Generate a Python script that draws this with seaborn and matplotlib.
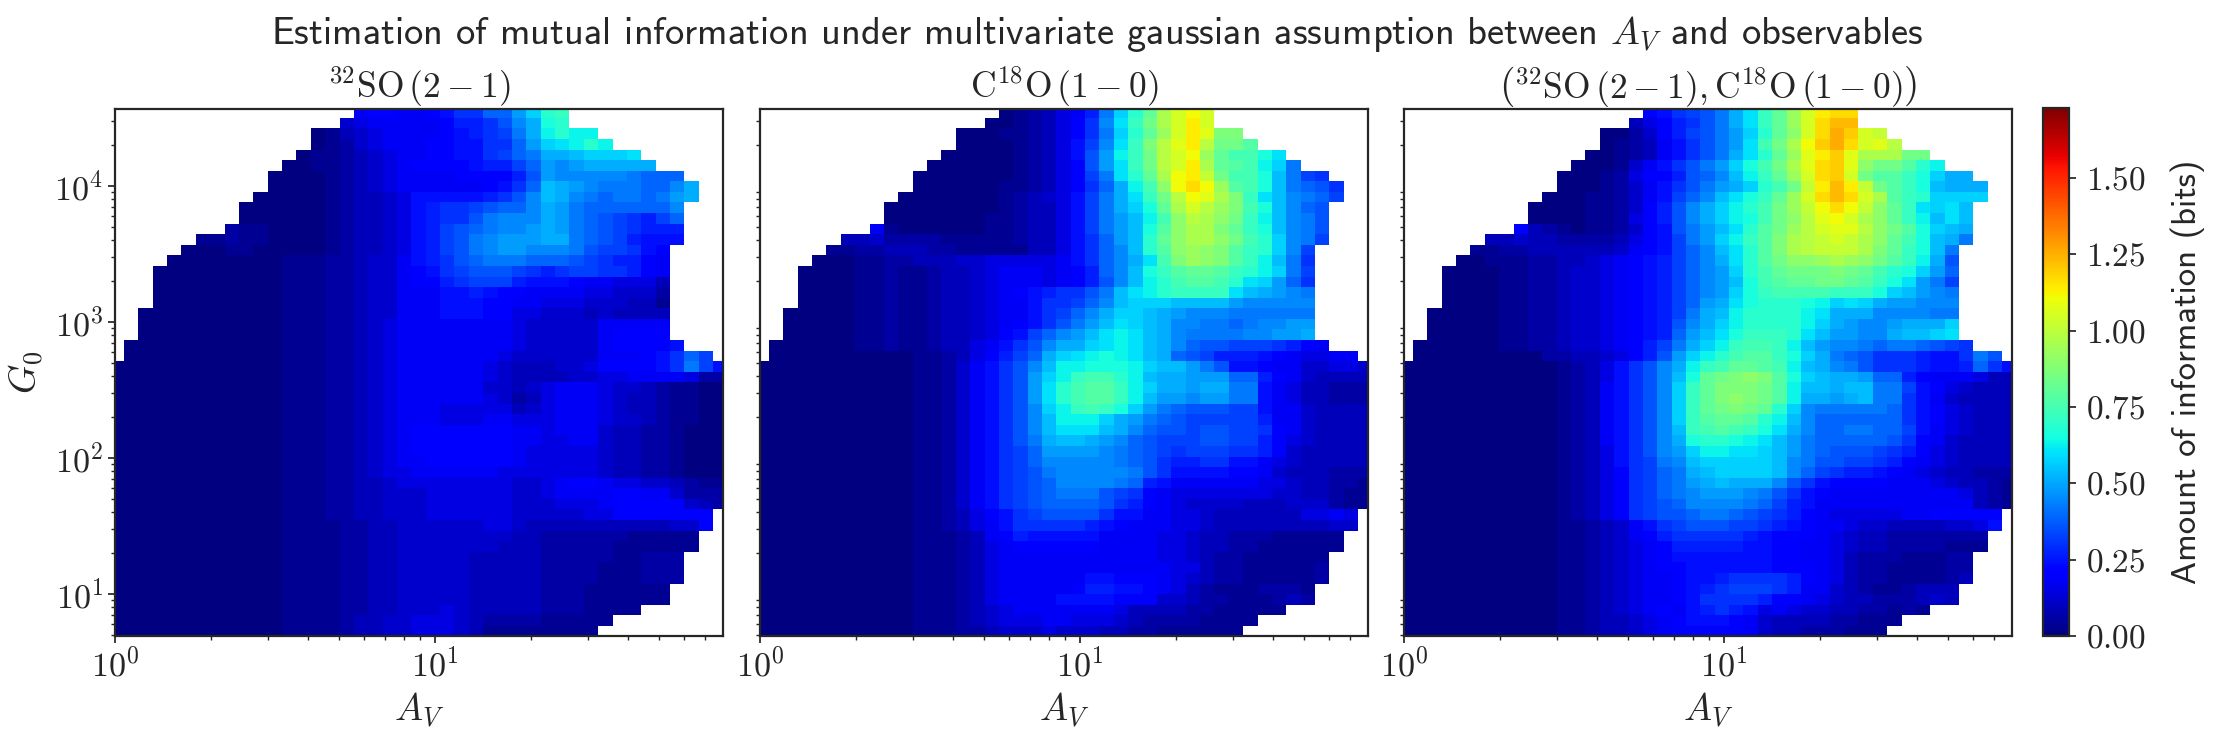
import numpy as np
import matplotlib
matplotlib.use('Agg')
import matplotlib.pyplot as plt
import seaborn as sns

# cell values, one letter per cell, top row first
# letter index * 0.03 = bits, '.' = no data
LEVELS = '0123456789abcdefghijklmnopqrstuvwxyzABCDEFGHIJ'
BITS_PER_LEVEL = 0.03

so32_rows = [
    ".......... .......677 6678aaddgj no........ ...",
    ".......... ......4566 666799acfh mn........ ...",
    ".......... ....013456 666789abeh lnll...... ...",
    ".......... ....012456 667788aadg jklnl..... ...",
    ".......... ...0112345 667788abde hhijjjk... ...",
    ".......... ..00112345 67777899bd gfghhhhh.. ...",
    ".......... .000012345 666677779c gfffffeddd ...",
    ".......... .000012345 66666678ad ihgfeeeddf h..",
    ".......... 0000012334 5888889acf ihfedeedeg h..",
    ".........0 0000012334 589aabcddf hgeddddddf ...",
    ".........0 0000012334 589aacefff hgedcba9bd ...",
    "........21 1000012334 589bcdeffg hgedcba999 ...",
    "......1121 1000012334 589bcefggg hhedcb9888 ...",
    ".....00011 0000012334 589bcefggf ffecbba87. ...",
    "....000000 0011122344 689acdeeed ddcba9976. ...",
    "...0000000 0011122344 678abcccba 9abbaa976. ...",
    "...0000000 0011122344 6779abbb98 887665553. ...",
    "...0000000 0011122344 6668898776 666554442. ...",
    "...0000000 0011122344 6668887766 555444331. ...",
    "..00000000 0011122344 6668887755 444343333. ...",
    "..00000000 0011122345 6666666654 444466666. ...",
    "..00000000 0011122345 6666666654 444467777. ...",
    ".000000000 0011122345 6666666654 4444677778 ...",
    ".000000000 0011122345 6666666544 444466678a db.",
    "0000000000 0011122345 6666665433 344577778a eb8",
    "0000000000 0011122345 6666665433 3344556666 522",
    "0000000000 0011122345 6666664434 5666544321 100",
    "0000000000 0011122345 6666665423 5666543321 100",
    "0000000000 0011122345 6665555534 5666543321 100",
    "0000000000 0011122345 6665556655 5666544321 100",
    "0000000000 0011122345 6777777766 5666433221 000",
    "0000000000 0011122345 6777777766 5566433221 000",
    "0000000000 0011122345 6777777765 5555433221 000",
    "0000000000 0011122345 6677777765 5555433221 000",
    "0000000000 0011122345 5666666555 5555433221 000",
    "0000000000 0011122334 5555555544 5677655443 211",
    "0000000000 0011122334 4455555544 5666677664 222",
    "0000000000 0011122334 4455555544 4555677777 432",
    "0000000000 0011122334 4455555544 4445577777 77.",
    "0000000000 0011112233 4444445543 3333333334 47.",
    "0000000000 0011112233 4444444433 2222221111 1..",
    "0000000000 0011112233 4444444333 2222211111 1..",
    "0000000000 0011112233 4444433333 2222211222 ...",
    "0000000000 0011112233 4444433333 2222111222 ...",
    "0000000000 0011112233 4444433333 2222111222 ...",
    "0000000000 0011112233 4444433333 222111111. ...",
    "0000000000 0011112233 4444433333 222111111. ...",
    "0000000000 0011112233 4445433333 2221111... ...",
    "0000000000 0011112334 4555432222 11111..... ...",
    "0000000000 0011112334 4555431111 1111...... ...",
]

c18o_rows = [
    ".......... .......012 3569ejnrwz Bz........ ...",
    ".......... ......0012 357afkoswz Cz........ ...",
    ".......... ....000112 357aejnrvz CAtt...... ...",
    ".......... ....000012 358bfkotxA Cxssq..... ...",
    ".......... ...0000012 358cglosxz Bvrppmk... ...",
    ".......... ..00000012 357cgkosxz Cwrqplje.. ...",
    ".......... .000000012 357beknrwB Cysppmieba ...",
    ".......... .000000112 357adhlpuB DBvqpmiedc a..",
    ".......... 0000000123 458behkosx BAwtokifed b..",
    ".........0 0000000123 358behjmrw zxvtpmifdc ...",
    ".........0 0000001123 358begilpu xwusolifec ...",
    "........61 0000001123 358begimqu wwtromifec ...",
    "......3342 2221111123 358adginru wwuspnjfeb ...",
    ".....11223 3322111113 358adfinqu vutqonjfb. ...",
    "....000112 2333445555 568adfhkpt vutqoliea. ...",
    "...0000112 1123345666 5679dfimoq rrqonljeb. ...",
    "...0000112 1123345666 5679cfilnp qqpnkjgda. ...",
    "...0000112 1123345678 9aaceiklno oookihgfe. ...",
    "...0000112 1123345668 aabdfijjji iiigfffff. ...",
    "..00000112 1123345668 abdfhjjihg fffeeeeee. ...",
    "..00000112 1123345678 acegikjihf feedeffgg. ...",
    "..00000112 112334578b dfgiklkihf eeeeffggh. ...",
    ".000000112 11233568ac fhhjklkihf dccbbba976 ...",
    ".000000000 01123579bd hjklmlkihd cb99987655 66.",
    "0000000000 0112468acf illmmmljii gec8876644 554",
    "0000000000 0112468acg jloppnlihh gggdd97643 333",
    "0000000000 0112468acg knpqqoljhh ghhee86533 222",
    "0000000000 0112468acg knpqqoligg fggee86533 222",
    "0000000000 0112468acf jlopomjged cccbb86643 333",
    "0000000000 0112468acf illljhgedc bbbbb96643 333",
    "0000000000 0112468acf ikkkihfdcc bccbba7643 333",
    "0000000000 0112468ace hiihgfdcbb bccbb97543 333",
    "0000000000 0112468abd ggggfedcba bbbaa97433 333",
    "0000000000 0112468abd fffffedca9 9aa8865433 333",
    "0000000000 0112468abc efffffeca8 8887764333 222",
    "0000000000 0112468abc dffffed986 6666655433 221",
    "0000000000 0112468abc deeecba765 5555554433 211",
    "0000000000 0112468abc ddddca9765 4444333444 211",
    "0000000000 01123578ab cccca88665 5433333355 65.",
    "0000000000 01123568aa aaa9876665 5433333333 44.",
    "0000000000 0111236798 8888666655 4332221111 1..",
    "0000000000 0111235677 7777666655 4332211111 1..",
    "0000000000 0111235666 6666666655 4322111111 ...",
    "0000000000 0111235666 6666666665 5322111112 ...",
    "0000000000 0111235666 6668877765 4322111112 ...",
    "0000000000 0111235666 6679988765 321112221. ...",
    "0000000000 0111235666 6888877744 322111232. ...",
    "0000000000 0111234566 6666653333 2211111... ...",
    "0000000000 0111234555 6655543222 21111..... ...",
    "0000000000 0111223444 5444332211 1111...... ...",
]

joint_rows = [
    ".......... .......78a bcehkorvzC DD........ ...",
    ".......... ......3579 acehkorvzD FF........ ...",
    ".......... ....002479 bcegjnruzD GEzy...... ...",
    ".......... ....012368 acegkpswBE GDzAx..... ...",
    ".......... ...0012368 acehknrvAC EAwwwss... ...",
    ".......... ..0001468a cegjmpswAD EAussqnl.. ...",
    ".......... .000125779 cdfilorvzD Ezsqqomjhh ...",
    ".......... .00012468a ceghjnpsyC FCysqomihh h..",
    ".......... 000112468b dfikmorvzD FDzwqonjjj j..",
    ".........0 000112479c fhjlnpsvyB DByurokjki ...",
    ".........0 000112579c fhjlmpsuxA Bzwuroliki ...",
    "........73 210112478c egiknqsvxz AAxusqmjih ...",
    "......3343 322223578b egjloqtwxy zywurpmihe ...",
    ".....11223 333334678b dfiknqtwxy yywtromie. ...",
    "....001112 233456789b dfhknqsuuv wvusqolhc. ...",
    "...0000112 234456789b dfgjnprsss tsrpnmjgd. ...",
    "...0000112 234456789b dfgimpqrrs srqomkgeb. ...",
    "...0000112 234456789b dfgjmopppp ooomjigfe. ...",
    "...0000112 234456789b dghkmnnnml jkjhggfff. ...",
    "..00000112 234456789b ehilnnnnlk hhhffffee. ...",
    "..00000112 234456789c fhjlnnnnlj hgffghhhj. ...",
    "..00000112 234456789d gikmooonki ggffhiijk. ...",
    ".000000112 23445679be hjloppolig ffedeedcba ...",
    ".000000000 22334579cg jlnpqqomjh edcaaa988a ec.",
    "0000000000 012358acfh loprrqplih fecaaa9889 da8",
    "0000000000 012358acfi mrstutqmji hhgdd97666 533",
    "0000000000 012368acfj ortttsqlii hiieeb8754 333",
    "0000000000 012368acfj ortutsqlhh ghieea8643 333",
    "0000000000 012368acfj orstsrnjfe eeeeda8754 333",
    "0000000000 012368acfj oqrrqnlifd ddddda8754 333",
    "0000000000 012368acfi opqpomkhfd deeddb8654 333",
    "0000000000 012368acfh mnnmlkiged ddddca7643 333",
    "0000000000 012358acfg jllkkjiged cccba97543 333",
    "0000000000 012358abef ijjjjjifec cbba976543 333",
    "0000000000 012357abde hijjjjifdb a998765433 222",
    "0000000000 012357abde ghihhhfca8 7777666543 321",
    "0000000000 012357abde fgggfeca87 6666666665 321",
    "0000000000 012357abcd ffffedb986 6666666666 321",
    "0000000000 012357abcc deedcba976 5555566777 77.",
    "0000000000 01123468ab cccbba9876 6544333344 58.",
    "0000000000 011234679a aaaa987776 5433222222 2..",
    "0000000000 0112345679 9999887766 5433222211 1..",
    "0000000000 0112345678 8888887766 5322211122 ...",
    "0000000000 0112345677 8888887776 5322111122 ...",
    "0000000000 0112345667 889aaaa976 5322111123 ...",
    "0000000000 0112345667 89abbba966 432112333. ...",
    "0000000000 0112345667 8aaaa97765 433222343. ...",
    "0000000000 0112345676 89a9856544 3322121... ...",
    "0000000000 0112334567 8887643333 22111..... ...",
    "0000000000 0112334567 7777643322 2111...... ...",
]

panel_titles = [
    r'$^{32}\mathrm{SO}\,(2-1)$',
    r'$\mathrm{C}^{18}\mathrm{O}\,(1-0)$',
    r'$\left(^{32}\mathrm{SO}\,(2-1),\mathrm{C}^{18}\mathrm{O}\,(1-0)\right)$',
]
suptitle_text = r'Estimation of mutual information under multivariate gaussian assumption between $A_V$ and observables'
cbar_label = 'Amount of information (bits)'
cbar_ticks = [0.0, 0.25, 0.5, 0.75, 1.0, 1.25, 1.5]
vmax = 1.73

# grid of the maps, in decades
n_cols, n_rows = 43, 50
x_lim = (1.0, 79.4)
y_lim = (4.9, 36600.0)
x_edge_1, x_step = 0.0281, 0.0449   # log10(Av) at left of column 1
y_edge_1, y_step = 4.499, 0.0778    # log10(G0) at top of row 1
x_decades = [0, 1]
y_decades = [1, 2, 3, 4]


def decode(rows):
    grid = np.full((n_rows, n_cols), np.nan)
    for i, row in enumerate(rows):
        row = row.replace(' ', '')
        if len(row) != n_cols:
            print('bad row', i, len(row))
        for j, c in enumerate(row[:n_cols]):
            if c != '.':
                grid[i, j] = LEVELS.index(c) * BITS_PER_LEVEL
    return grid


def x_cell(a):
    return 1 + (np.log10(a) - x_edge_1) / x_step


def y_cell(g):
    return 1 + (y_edge_1 - np.log10(g)) / y_step


def minor_values(decades, lo, hi):
    vals = []
    for d in range(min(decades) - 1, max(decades) + 2):
        for m in range(2, 10):
            v = m * 10.0 ** d
            if lo <= v <= hi:
                vals.append(v)
    return vals


sns.set_theme(style='ticks')
plt.rcParams['mathtext.fontset'] = 'cm'
plt.rcParams['font.family'] = ['cmss10', 'DejaVu Sans']
plt.rcParams['axes.unicode_minus'] = False

W, H = 2224, 737
fig = plt.figure(figsize=(W / 100, H / 100), dpi=100)


def px_axes(x0, x1, y0, y1):
    return fig.add_axes([x0 / W, 1 - y1 / H, (x1 - x0) / W, (y1 - y0) / H])


axes = [px_axes(115, 723, 109, 636), px_axes(760, 1368, 109, 636), px_axes(1404, 2012, 109, 636)]
cax = px_axes(2043, 2069, 108, 636)

grids = [decode(so32_rows), decode(c18o_rows), decode(joint_rows)]

for k, (ax, grid) in enumerate(zip(axes, grids)):
    sns.heatmap(grid, ax=ax, cmap='jet', vmin=0, vmax=vmax, square=False,
                xticklabels=False, yticklabels=False,
                cbar=k == 2, cbar_ax=cax if k == 2 else None)
    ax.set_xlim(x_cell(x_lim[0]), x_cell(x_lim[1]))
    ax.set_ylim(y_cell(y_lim[0]), y_cell(y_lim[1]))
    for s in ax.spines.values():
        s.set_visible(True)
        s.set_color('.15')
        s.set_linewidth(1.6)

    ax.set_xticks([x_cell(10.0 ** d) for d in x_decades])
    ax.set_xticklabels([r'$10^{%d}$' % d for d in x_decades], fontsize=24.5, rotation=0)
    ax.set_xticks([x_cell(v) for v in minor_values(x_decades, *x_lim)], minor=True)
    ax.set_yticks([y_cell(10.0 ** d) for d in y_decades])
    ax.set_yticks([y_cell(v) for v in minor_values(y_decades, *y_lim)], minor=True)
    if k == 0:
        ax.set_yticklabels([r'$10^{%d}$' % d for d in y_decades], fontsize=24.5, rotation=0)
        ax.set_ylabel(r'$G_0$', fontsize=27, labelpad=6)
        ax.tick_params(axis='y', which='major', length=5, width=1.25, color='.15')
    else:
        ax.set_yticklabels([])
        ax.set_ylabel('')
        ax.tick_params(axis='y', which='major', length=0)
    ax.tick_params(axis='y', which='minor', length=3, width=1, color='.15', left=True)
    ax.tick_params(axis='x', which='major', length=5, width=1.25, color='.15')
    ax.tick_params(axis='x', which='minor', length=3, width=1, color='.15', bottom=True)
    ax.set_xlabel(r'$A_V$', fontsize=27, labelpad=6)
    ax.set_title(panel_titles[k], fontsize=25.5, pad=3)

cbar = axes[2].collections[0].colorbar
cbar.set_ticks(cbar_ticks)
cbar.set_ticklabels([r'$%.2f$' % t for t in cbar_ticks], fontsize=24)
cbar.ax.tick_params(length=5, width=1.25, color='.15', pad=7)
cbar.outline.set_linewidth(1.6)
cbar.outline.set_edgecolor('.15')
cbar.set_label(cbar_label, fontsize=25, labelpad=18)

fig.suptitle(suptitle_text, fontsize=27.7, x=0.4935, y=0.981)
fig.savefig('out.png', dpi=100)
